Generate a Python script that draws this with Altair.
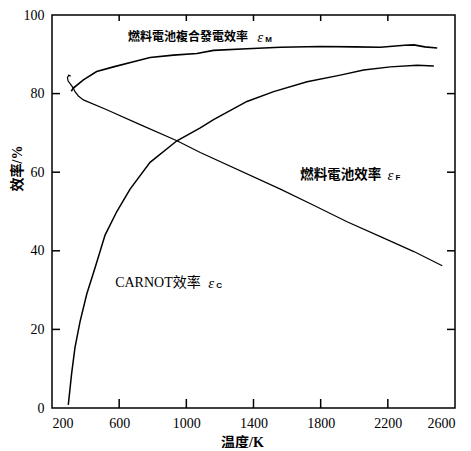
import altair as alt
import pandas as pd

# ---- data ----
carnot_T = [297, 317, 337, 367, 407, 456, 516, 586, 665, 784, 944, 1083, 1162,
            1361, 1520, 1719, 1917, 2056, 2215, 2375, 2474]
carnot_v = [0.8, 8.8, 15.4, 22.0, 29.0, 35.6, 44.0, 50.0, 55.7, 62.5, 68.0, 71.3,
            73.4, 78.0, 80.5, 83.0, 84.7, 86.0, 86.8, 87.2, 87.0]

combined_T = [315, 327, 387, 466, 566, 685, 784, 923, 1063, 1162, 1361, 1560,
              1800, 2000, 2156, 2300, 2355, 2420, 2494]
combined_v = [80.6, 81.4, 83.5, 85.6, 86.8, 88.1, 89.2, 89.8, 90.2, 91.0, 91.4,
              91.8, 92.0, 91.9, 91.8, 92.3, 92.4, 91.9, 91.6]

fuel_T = [312, 300, 292, 296, 310, 327, 337, 357, 387, 526, 725, 944, 1083,
          1560, 1758, 1957, 2156, 2355, 2524]
fuel_v = [84.4, 84.7, 84.1, 83.2, 82.4, 81.4, 80.5, 79.4, 78.4, 75.9, 72.1, 68.0,
          65.0, 55.7, 51.6, 47.4, 43.6, 39.8, 36.2]

x_ticks = [200, 600, 1000, 1400, 1800, 2200, 2600]
y_ticks = [0, 20, 40, 60, 80, 100]
x_inner_ticks = [600, 1000, 1400, 1800, 2200]
y_inner_ticks = [20, 40, 60, 80]

label1_text = ["燃料電池複合發電效率"]
label1_T = [653]
label1_v = [94.5]
label2_text = ["燃料電池效率"]
label2_T = [1679]
label2_v = [59.2]
carnot_text = ["CARNOT效率"]
carnot_label_T = [576]
carnot_label_v = [31.7]
eps_T = [1422, 2198, 1130]
eps_v = [94.5, 59.2, 31.7]
eps_sub = ["M", "F", "C"]

W, H = 403, 393
FONT = "Liberation Serif, Noto Sans CJK TC"

xs = alt.Scale(domain=[200, 2600], nice=False, zero=False)
ys = alt.Scale(domain=[0, 100], nice=False, zero=False)

def curve(T, v, width):
    df = pd.DataFrame({"T": T, "v": v, "i": range(len(T))})
    return alt.Chart(df).mark_line(color="black", strokeWidth=width).encode(
        x=alt.X("T:Q", scale=xs), y=alt.Y("v:Q", scale=ys), order="i:Q")

axis_common = dict(format="d", ticks=False, domain=False, grid=False, labelPadding=8,
                   labelFont="Liberation Serif", labelFontSize=14, labelColor="black",
                   titleFont=FONT, titleFontSize=14, titleFontWeight="bold",
                   titleColor="black", titleBaseline="middle")

base_x = alt.X("T:Q", scale=xs,
               axis=alt.Axis(values=x_ticks, title="温度/K", titleX=190, titleY=34,
                             **axis_common))
base_y = alt.Y("v:Q", scale=ys,
               axis=alt.Axis(values=y_ticks, title="效率/%", titleX=-35, titleY=153,
                             **axis_common))

carnot_df = pd.DataFrame({"T": carnot_T, "v": carnot_v, "i": range(len(carnot_T))})
carnot = alt.Chart(carnot_df).mark_line(color="black", strokeWidth=1.5).encode(
    x=base_x, y=base_y, order="i:Q")

combined = curve(combined_T, combined_v, 1.6)
fuel = curve(fuel_T, fuel_v, 1.2)

xt = pd.DataFrame({"T": x_inner_ticks})
yt = pd.DataFrame({"v": y_inner_ticks})
tick_bottom = alt.Chart(xt).mark_rule(color="black", strokeWidth=1.5).encode(
    x=alt.X("T:Q", scale=xs), y=alt.value(H), y2=alt.value(H - 9))
tick_top = alt.Chart(xt).mark_rule(color="black", strokeWidth=1.5).encode(
    x=alt.X("T:Q", scale=xs), y=alt.value(0), y2=alt.value(6))
tick_left = alt.Chart(yt).mark_rule(color="black", strokeWidth=1.5).encode(
    y=alt.Y("v:Q", scale=ys), x=alt.value(0), x2=alt.value(8))
tick_right = alt.Chart(yt).mark_rule(color="black", strokeWidth=1.5).encode(
    y=alt.Y("v:Q", scale=ys), x=alt.value(W - 8), x2=alt.value(W))

def text_layer(T, v, txt, size, weight):
    df = pd.DataFrame({"T": T, "v": v, "text": txt})
    return alt.Chart(df).mark_text(align="left", baseline="middle", font=FONT,
                                   fontSize=size, fontWeight=weight, color="black").encode(
        x=alt.X("T:Q", scale=xs), y=alt.Y("v:Q", scale=ys), text="text:N")

label1 = text_layer(label1_T, label1_v, label1_text, 12, "bold")
label2 = text_layer(label2_T, label2_v, label2_text, 13.5, "bold")
c_label = text_layer(carnot_label_T, carnot_label_v, carnot_text, 14, "normal")

e_df = pd.DataFrame({"T": eps_T, "v": eps_v, "sub": eps_sub})
eps = alt.Chart(e_df).mark_text(align="left", baseline="middle", font="Liberation Serif",
                                fontSize=15, fontStyle="italic", color="black").encode(
    x=alt.X("T:Q", scale=xs), y=alt.Y("v:Q", scale=ys), text=alt.value("ε"))
subs = alt.Chart(e_df).mark_text(align="left", baseline="middle", font="Liberation Sans",
                                 fontSize=8, fontWeight="bold", dx=8, dy=3,
                                 color="black").encode(
    x=alt.X("T:Q", scale=xs), y=alt.Y("v:Q", scale=ys), text="sub:N")

chart = alt.layer(carnot, combined, fuel, tick_bottom, tick_top, tick_left, tick_right,
                  label1, label2, c_label, eps, subs).properties(
    width=W, height=H,
    autosize=alt.AutoSizeParams(type="none"),
    padding={"left": 44, "top": 7, "right": 8, "bottom": 40},
    background="white",
).configure_view(stroke="black", strokeWidth=1.5)

chart.save("out.html", embed_options={"renderer": "svg", "actions": False})
